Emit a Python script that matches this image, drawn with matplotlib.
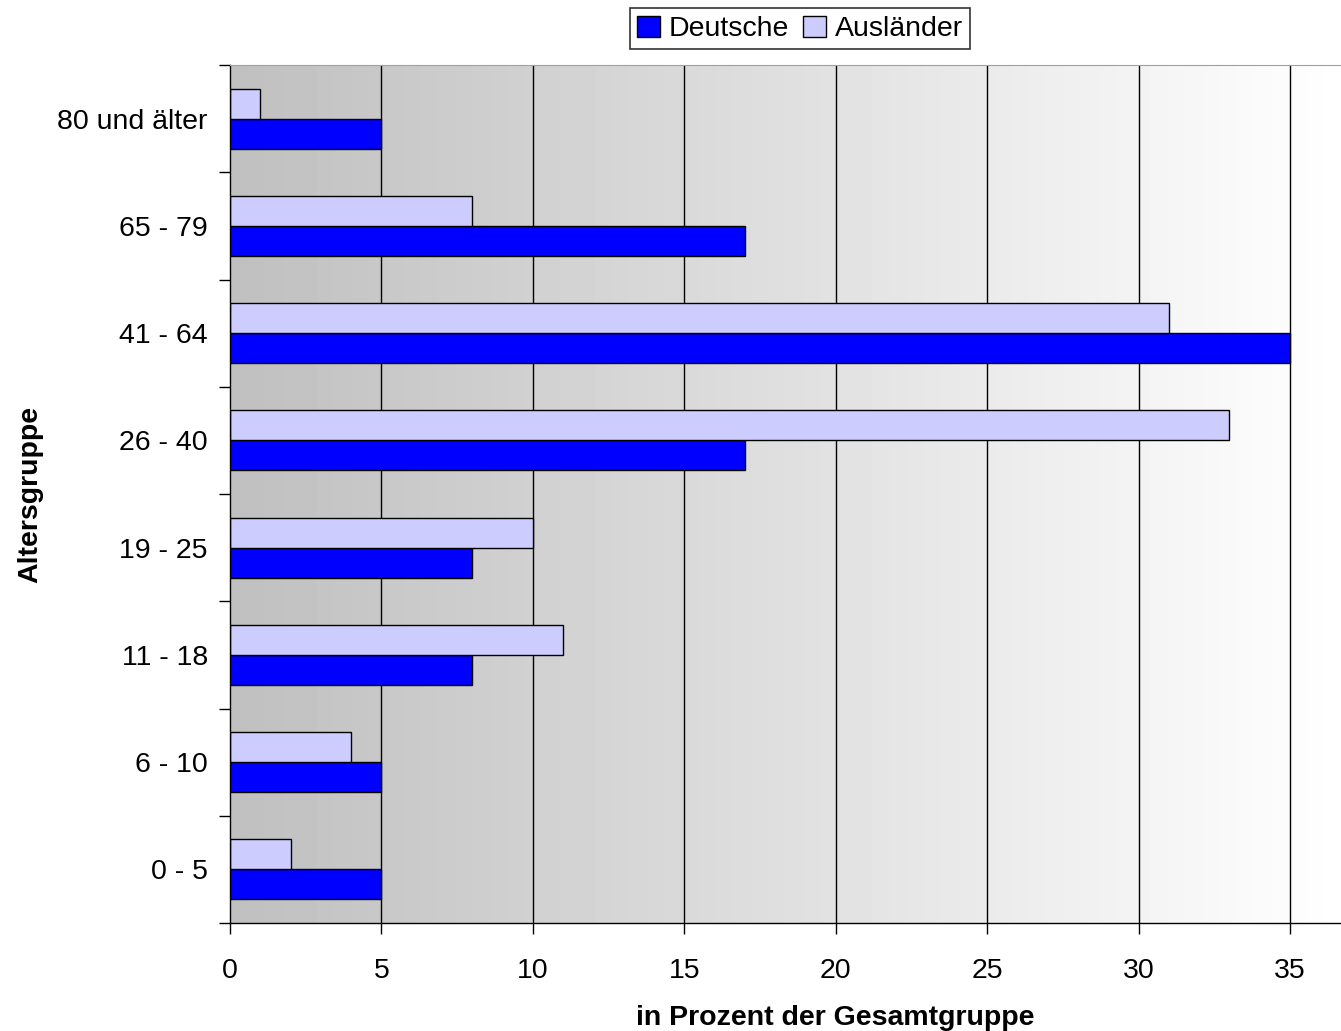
import numpy as np
import matplotlib.pyplot as plt

plt.rcParams['font.family'] = ['Liberation Sans', 'DejaVu Sans']

groups = ['0 - 5', '6 - 10', '11 - 18', '19 - 25', '26 - 40', '41 - 64', '65 - 79', '80 und älter']
deutsche = [5, 5, 8, 8, 17, 35, 17, 5]
auslaender = [2, 4, 11, 10, 33, 31, 8, 1]

fig = plt.figure(figsize=(13.41, 10.31), dpi=100)
ax = fig.add_axes([230 / 1341, (1031 - 923) / 1031, 1 - 230 / 1341, (923 - 65) / 1031])

xmax = (1341 - 230) / ((1290 - 230) / 35)
y = np.arange(len(groups))
h = 0.28

# gradient background
grad = np.linspace(0.75, 1.0, 256).reshape(1, -1)
ax.imshow(grad, extent=[0, xmax, -0.5, len(groups) - 0.5], aspect='auto',
          cmap='gray', vmin=0, vmax=1, zorder=0)

for xv in range(5, 40, 5):
    ax.axvline(xv, color='black', lw=1, zorder=1)

ax.barh(y - h / 2, deutsche, height=h, color='#0000ff', edgecolor='black', lw=1,
        label='Deutsche', zorder=2)
ax.barh(y + h / 2, auslaender, height=h, color='#ccccff', edgecolor='black', lw=1,
        label='Ausländer', zorder=2)

ax.set_xlim(0, xmax)
ax.set_ylim(-0.5, len(groups) - 0.5)
ax.set_xticks(range(0, 40, 5))
ax.set_yticks(y)
ax.set_yticklabels(groups)
ax.set_yticks(np.arange(-0.5, len(groups), 1), minor=True)
ax.tick_params(axis='y', which='major', length=0, labelsize=20.5, pad=16)
ax.tick_params(axis='y', which='minor', length=8, width=1, direction='out')
ax.tick_params(axis='x', length=8, width=1, labelsize=20.5, pad=17)

ax.spines['right'].set_visible(False)
ax.spines['top'].set_color('#a0a0a0')
ax.spines['left'].set_linewidth(1)
ax.spines['bottom'].set_linewidth(1)

ax.set_xlabel('in Prozent der Gesamtgruppe', fontsize=20.5, fontweight='bold')
ax.xaxis.set_label_coords((835 - 230) / (1341 - 230), -0.095)
ax.set_ylabel('Altersgruppe', fontsize=20.5, fontweight='bold')
ax.yaxis.set_label_coords(-0.168, 0.5)

leg = ax.legend(loc='center', bbox_to_anchor=((800 - 230) / (1341 - 230), 1.042),
                ncol=2, fontsize=20.5, frameon=True, fancybox=False, edgecolor='black',
                handlelength=0.8, handleheight=0.8, handletextpad=0.3, columnspacing=0.5,
                borderpad=0.25, borderaxespad=0)
leg.get_frame().set_linewidth(1.2)

fig.savefig('out.png', dpi=100)
